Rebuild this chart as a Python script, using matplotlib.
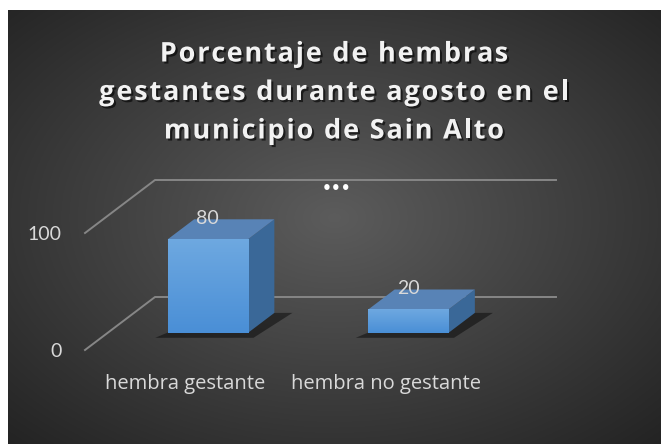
import numpy as np
import matplotlib
matplotlib.use("Agg")
import matplotlib.pyplot as plt
import matplotlib.patheffects as pe
from matplotlib.patches import Polygon
from matplotlib.lines import Line2D
from matplotlib.transforms import ScaledTranslation

categories = ["hembra gestante", "hembra no gestante"]
values = [80, 20]
y_ticks = [0, 100]
y_tick_labels = ["0", "100"]
title_lines = ["Porcentaje de hembras",
               "gestantes durante agosto en el",
               "municipio de Sain Alto"]

W, H = 661, 444
fig = plt.figure(figsize=(W / 100, H / 100), dpi=100, facecolor="white")

# dark radial background
bg = fig.add_axes([8 / W, 0, (W - 8) / W, (H - 10) / H])
yy, xx = np.mgrid[0:1:300j, 0:1:450j]
r = np.sqrt(((xx - 0.5) / 0.75) ** 2 + ((yy - 0.52) / 0.75) ** 2)
shade = np.clip(0.36 - 0.23 * r, 0.14, 0.36)
bg.imshow(np.dstack([shade] * 3), extent=[0, 1, 0, 1], aspect="auto", origin="lower")
bg.set_axis_off()

# main plot plane (front of the 3d box)
ax = fig.add_axes([85 / W, 94 / H, 401 / W, 117 / H])
ax.set_xlim(0, 2)
ax.set_ylim(0, 100)
ax.set_autoscale_on(False)
ax.patch.set_visible(False)
for s in ax.spines.values():
    s.set_visible(False)

depth_dx, depth_dy = 0.70, 0.53  # inches for full depth


def proj(x, y, z):
    d = ax.transData.transform((x, y))
    d = d + np.array([depth_dx, depth_dy]) * z * fig.dpi
    return fig.transFigure.inverted().transform(d)


def poly(pts, **kw):
    p = Polygon([proj(*pt) for pt in pts], closed=True, transform=fig.transFigure,
                clip_on=False, **kw)
    ax.add_patch(p)
    return p


grid_c = "#868686"
for v in y_ticks:
    a, b, c = proj(0, v, 0), proj(0, v, 1), proj(2, v, 1)
    ax.add_line(Line2D([a[0], b[0], c[0]], [a[1], b[1], c[1]], color=grid_c, lw=1.4,
                       transform=fig.transFigure, clip_on=False, zorder=1))

ax.set_yticks(y_ticks)
ax.set_yticklabels(y_tick_labels)
ax.set_xticks([0.5, 1.5])
ax.set_xticklabels(categories)
ax.tick_params(length=0, colors="#d9d9d9")
ax.tick_params(axis="y", pad=17, labelsize=14)
ax.tick_params(axis="x", pad=17, labelsize=14.5)
for t in ax.get_yticklabels():
    t.set_fontfamily("Lato")
for t in ax.get_xticklabels():
    t.set_fontfamily("Open Sans")

w = 0.40
zf, zb = 0.32, 0.70
for i, v in enumerate(values):
    c = 0.5 + i
    x0, x1 = c - w / 2, c + w / 2
    # shadow on floor
    poly([(x0 - 0.03, 0, zf - 0.09), (x1 + 0.06, 0, zf - 0.09), (x1 + 0.09, 0, zb), (x0 + 0.1, 0, zb)],
         facecolor="black", alpha=0.45, edgecolor="none", zorder=2)
    # side face
    poly([(x1, 0, zf), (x1, 0, zb), (x1, v, zb), (x1, v, zf)],
         facecolor="#3a6898", edgecolor="none", zorder=3)
    # top face
    poly([(x0, v, zf), (x1, v, zf), (x1, v, zb), (x0, v, zb)],
         facecolor="#5883b6", edgecolor="none", zorder=3)
    # front face with gradient
    tr = ax.transData + ScaledTranslation(depth_dx * zf, depth_dy * zf, fig.dpi_scale_trans)
    grad = np.linspace(0, 1, 64).reshape(-1, 1)
    top_c = np.array([0.43, 0.66, 0.88])
    bot_c = np.array([0.29, 0.56, 0.84])
    img = bot_c + (top_c - bot_c) * grad
    ax.imshow(img[:, None, :].repeat(2, axis=1), extent=[x0, x1, 0, v], origin="lower",
              aspect="auto", transform=tr, zorder=4, clip_on=False)
    ax.text(c, v, str(v), transform=tr + ScaledTranslation(0, 0.21, fig.dpi_scale_trans),
            ha="center", va="center", color="#d9d9d9", fontsize=14, family="Lato", zorder=5)

# title with letter spacing, drawn char by char
renderer = fig.canvas.get_renderer()
tkw = dict(color="#f2f2f2", fontsize=19.5, fontweight="bold", family="Open Sans",
           path_effects=[pe.withSimplePatchShadow(offset=(1.5, -1.5), shadow_rgbFace="black", alpha=0.6)])
spacing = 1.8
baselines = [61.5, 100, 138.5]


def text_w(s):
    t = fig.text(0, 0, s + "|", **tkw)
    t0 = fig.text(0, 0, "|", **tkw)
    wdt = t.get_window_extent(renderer).width - t0.get_window_extent(renderer).width
    t.remove()
    t0.remove()
    return wdt


for line, base in zip(title_lines, baselines):
    total = text_w(line) + spacing * (len(line) - 1)
    left = 334 - total / 2
    for k, ch in enumerate(line):
        if ch == " ":
            continue
        xk = left + text_w(line[:k]) + spacing * k
        fig.text(xk / W, 1 - base / H, ch, ha="left", va="baseline", **tkw)

fig.text(337 / W, 1 - 188 / H, "\u2022\u2022\u2022", ha="center", va="center", color="white",
         fontsize=11, fontweight="bold", family="DejaVu Sans")

fig.savefig("out.png", dpi=100, facecolor="white")
